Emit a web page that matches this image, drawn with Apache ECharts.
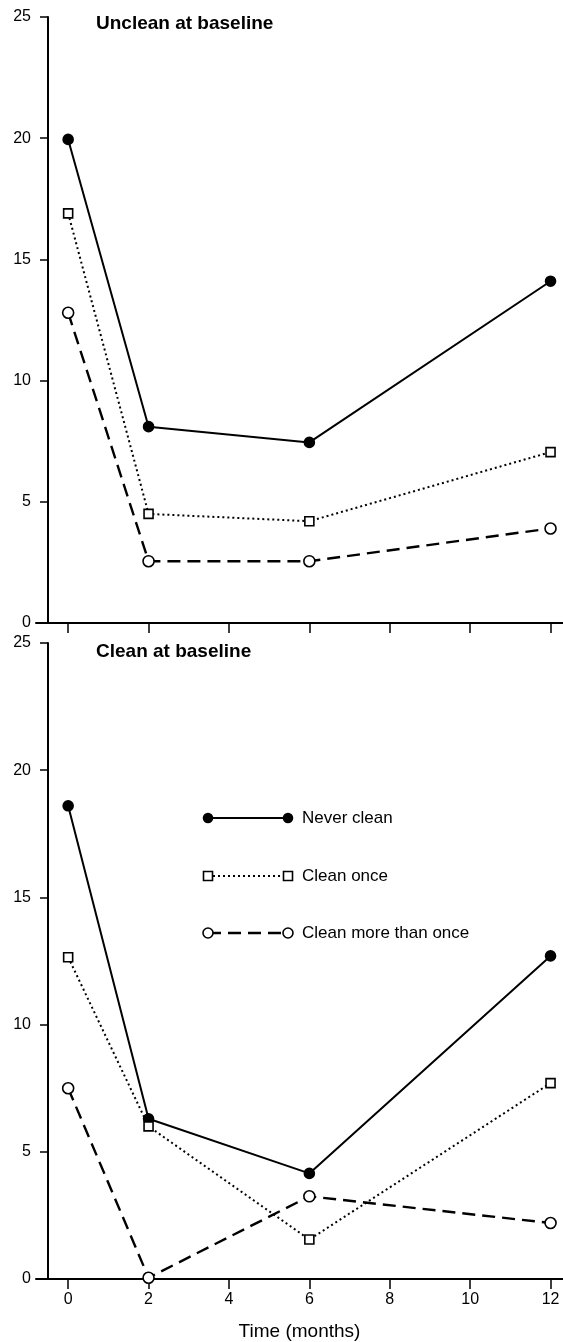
<!DOCTYPE html>
<html>
<head>
<meta charset="utf-8">
<style>
html,body{margin:0;padding:0;background:#fff;}
#chart{width:563px;height:1342px;}
</style>
<script src="https://cdn.jsdelivr.net/npm/echarts@6/dist/echarts.min.js"></script>
</head>
<body>
<div id="chart"></div>
<script>
// ---- data ----
var months = [0, 2, 6, 12];
var xTicks = [0, 2, 4, 6, 8, 10, 12];
var seriesNames = ['Never clean', 'Clean once', 'Clean more than once'];
var panelTitles = ['Unclean at baseline', 'Clean at baseline'];
var xAxisTitle = 'Time (months)';

var uncleanNever = [19.95, 8.1, 7.45, 14.1];
var uncleanOnce  = [16.9, 4.5, 4.2, 7.05];
var uncleanMore  = [12.8, 2.55, 2.55, 3.9];

var cleanNever = [18.6, 6.3, 4.15, 12.7];
var cleanOnce  = [12.65, 6.0, 1.55, 7.7];
var cleanMore  = [7.5, 0.05, 3.25, 2.2];

// ---- styles ----
var FONT = '"Liberation Sans", Arial, sans-serif';
var styles = [
  {type: 'solid', width: 2, symbol: 'circle', fill: '#000', size: 10},
  {type: [2, 3], width: 2, symbol: 'rect', fill: '#fff', size: 9},
  {type: [13, 7], width: 2.4, symbol: 'circle', fill: '#fff', size: 11}
];

function pair(xs, ys) { return xs.map(function (x, i) { return [x, ys[i]]; }); }

function makeSeries(gi, vals) {
  return vals.map(function (v, i) {
    var s = styles[i];
    return {
      name: seriesNames[i], type: 'line', xAxisIndex: gi, yAxisIndex: gi,
      data: pair(months, v), symbol: s.symbol, symbolSize: s.size,
      showAllSymbol: true, animation: false, z: 3 + i,
      lineStyle: {color: '#000', width: s.width, type: s.type},
      itemStyle: {color: s.fill, borderColor: '#000', borderWidth: 1.6}
    };
  });
}

function xAxisCfg(gi, showLabels) {
  return {
    gridIndex: gi, type: 'value', min: -0.8, max: 12.31,
    axisLine: {onZero: false, lineStyle: {color: '#000', width: 2}},
    axisTick: {show: true, length: 10, lineStyle: {color: '#000', width: 1.5}, customValues: xTicks},
    axisLabel: {show: showLabels, customValues: xTicks, color: '#000', fontSize: 16, fontFamily: FONT, margin: 13},
    splitLine: {show: false},
    name: showLabels ? xAxisTitle : '', nameLocation: 'middle', nameGap: 43,
    nameTextStyle: {color: '#000', fontSize: 19, fontFamily: FONT}
  };
}
function yAxisCfg(gi) {
  return {
    gridIndex: gi, type: 'value', min: 0, max: 25, interval: 5, offset: -12,
    axisLine: {show: true, onZero: false, lineStyle: {color: '#000', width: 2}},
    axisTick: {show: true, length: 8, lineStyle: {color: '#000', width: 1.5}},
    axisLabel: {color: '#000', fontSize: 16, fontFamily: FONT, margin: 17},
    splitLine: {show: false}
  };
}

// legend graphic (decoration only; text is real text)
var legendGraphic = [];
var legY = [818, 876, 933];
for (var i = 0; i < 3; i++) {
  var s = styles[i];
  var y = legY[i];
  legendGraphic.push({type: 'line', shape: {x1: 208, y1: y, x2: 288, y2: y},
    style: {stroke: '#000', lineWidth: s.width, lineDash: s.type === 'solid' ? null : s.type}});
  [208, 288].forEach(function (x) {
    if (s.symbol === 'circle') {
      legendGraphic.push({type: 'circle', shape: {cx: x, cy: y, r: s.size / 2 - 0.5},
        style: {fill: s.fill, stroke: '#000', lineWidth: 1.6}, z: 10});
    } else {
      legendGraphic.push({type: 'rect', shape: {x: x - s.size / 2, y: y - s.size / 2, width: s.size, height: s.size},
        style: {fill: s.fill, stroke: '#000', lineWidth: 1.6}, z: 10});
    }
  });
  legendGraphic.push({type: 'text', x: 302, y: y, style: {text: seriesNames[i], fill: '#000',
    font: '17px ' + FONT, textVerticalAlign: 'middle', verticalAlign: 'middle'}});
}

var chart = echarts.init(document.getElementById('chart'), null, {renderer: 'canvas'});
chart.setOption({
  backgroundColor: '#fff',
  animation: false,
  title: [
    {text: panelTitles[0], left: 91, top: 9, textStyle: {fontSize: 19, fontWeight: 'bold', color: '#000', fontFamily: FONT}},
    {text: panelTitles[1], left: 91, top: 637, textStyle: {fontSize: 19, fontWeight: 'bold', color: '#000', fontFamily: FONT}}
  ],
  grid: [
    {left: 36, width: 527, top: 17, height: 606},
    {left: 36, width: 527, top: 643, height: 636}
  ],
  xAxis: [xAxisCfg(0, false), xAxisCfg(1, true)],
  yAxis: [yAxisCfg(0), yAxisCfg(1)],
  series: makeSeries(0, [uncleanNever, uncleanOnce, uncleanMore])
    .concat(makeSeries(1, [cleanNever, cleanOnce, cleanMore])),
  graphic: legendGraphic
});
</script>
</body>
</html>
